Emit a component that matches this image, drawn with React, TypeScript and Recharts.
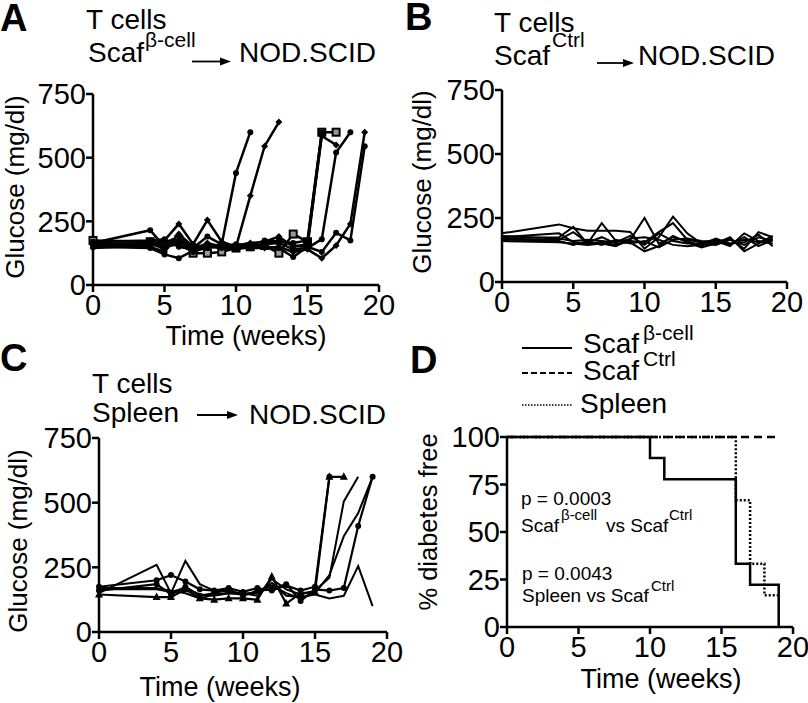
import React from 'react';
import { LineChart, Line, XAxis, YAxis } from 'recharts';

const FONT = '"Liberation Sans", Arial, Helvetica, sans-serif';

const weeks = [0, 4, 5, 6, 7, 8, 9, 10, 11, 12, 13, 14, 15, 16, 17, 18, 19];
const xTicks = [0, 5, 10, 15, 20];
const glucoseTicks = [0, 250, 500, 750];
const survivalTicks = [0, 25, 50, 75, 100];

// Panel A: T cells Scaf(beta-cell) -> NOD.SCID
const a1 = [165, 215, 150, 170, 145, 190, 160, 440, 600];
const a2 = [160, 160, 175, 240, 160, 255, 170, 150, 350, 545, 640];
const a3 = [175, 170, 160, 180, 125, 125, 130, 145, 150, 155, 125, 200, 170, 600, 600];
const a4 = [155, 150, 130, 200, 150, 155, 150, 155, 165, 170, 190, 150, 160, 585, 550];
const a5 = [170, 175, 180, 150, 140, 160, 150, 160, 155, 175, 170, 165, 175, 600];
const a6 = [150, 145, 120, 105, 135, 145, 155, 150, 160, 150, 145, 110, 150, 595];
const a7 = [165, 160, 150, 160, 130, 150, 145, 140, 150, 160, 165, 140, 145, 180, 520, 600];
const a8 = [145, 155, 165, 190, 140, 165, 150, 145, 145, 145, 150, 130, 140, 105, 155, 240, 600];
const a9 = [160, 165, 140, 175, 155, 150, 160, 150, 150, 160, 175, 155, 150, 130, 205, 175, 545];

// Panel B: T cells Scaf(Ctrl) -> NOD.SCID
const b1 = [190, 225, 210, 200, 200, 200, 195, 130, 175, 255, 190, 150, 160, 140, 190, 160, 150];
const b2 = [175, 190, 155, 150, 230, 160, 165, 250, 150, 175, 160, 140, 155, 170, 130, 195, 175];
const b3 = [170, 175, 215, 150, 155, 145, 160, 155, 195, 230, 165, 155, 165, 145, 175, 140, 165];
const b4 = [165, 165, 195, 155, 175, 150, 155, 120, 140, 180, 155, 135, 150, 175, 120, 150, 180];
const b5 = [160, 155, 150, 145, 150, 140, 170, 175, 165, 145, 140, 145, 170, 150, 155, 185, 140];
const b6 = [180, 170, 160, 165, 160, 155, 180, 145, 190, 160, 150, 150, 145, 165, 145, 175, 160];
const b7 = [168, 160, 145, 160, 145, 165, 150, 160, 135, 165, 170, 160, 155, 150, 165, 155, 170];

// Panel C: T cells Spleen -> NOD.SCID
const c1 = [175, 200, 220, 195, 165, 160, 170, 155, 170, 160, 180, 160, 175, 600];
const c2 = [150, 260, 150, 275, 185, 160, 155, 150, 140, 205, 165, 145, 160, 210, 505, 600];
const c3 = [165, 165, 155, 170, 145, 140, 150, 145, 150, 180, 150, 130, 150, 220, 370, 460, 600];
const c4 = [160, 185, 145, 175, 140, 150, 165, 140, 160, 165, 185, 120, 165, 160, 170, 410, 600];
const c5 = [170, 170, 160, 150, 130, 145, 150, 150, 150, 190, 140, 135, 145, 130, 140, 255, 100];
const c6 = [145, 135, 135, 165, 130, 125, 130, 130, 125, 215, 110, 150, 155, 600, 600];

// Panel D: % diabetes free (Kaplan-Meier)
const kmScafBeta = [[0, 100], [10, 88.9], [11, 77.8], [16, 33.3], [17, 22.2], [19, 0]];
const kmScafCtrl = [[0, 100], [19, 100]];
const kmSpleen = [[0, 100], [16, 66.7], [17, 33.3], [18, 16.7], [19, 16.7]];

const toPts = (arr: number[]) => arr.map((v, i) => ({ week: weeks[i], value: v }));
const toKm = (arr: number[][]) => arr.map(([w, v]) => ({ week: w, value: v }));

const circleDot = (r: number) => (p: any) =>
  p.cx == null ? <g key={`c${p.index}`} /> : <circle key={`c${p.index}`} cx={p.cx} cy={p.cy} r={r} fill="#000" />;
const diamondDot = (r: number) => (p: any) =>
  p.cx == null ? <g key={`d${p.index}`} /> : (
    <polygon key={`d${p.index}`} points={`${p.cx},${p.cy - r} ${p.cx + r},${p.cy} ${p.cx},${p.cy + r} ${p.cx - r},${p.cy}`} fill="#000" />
  );
const squareDot = (p: any) =>
  p.cx == null ? <g key={`s${p.index}`} /> : (
    <rect key={`s${p.index}`} x={p.cx - 3.5} y={p.cy - 3.5} width={7} height={7} fill="#999" stroke="#000" strokeWidth={2} />
  );
const triDot = (p: any) =>
  p.cx == null ? <g key={`t${p.index}`} /> : (
    <polygon key={`t${p.index}`} points={`${p.cx},${p.cy - 4.5} ${p.cx + 4},${p.cy + 3} ${p.cx - 4},${p.cy + 3}`} fill="#000" />
  );

const axisStroke = { stroke: '#000', strokeWidth: 2.5 };
const tickStyle = { fill: '#000', fontSize: 29, fontFamily: FONT };

function renderAxes(yTicks: number[], yMax: number) {
  return [
    <XAxis
      key="x"
      type="number"
      dataKey="week"
      domain={[0, 20]}
      ticks={xTicks}
      interval={0}
      height={45}
      axisLine={axisStroke}
      tickLine={axisStroke}
      tickSize={7}
      tickMargin={2}
      tick={tickStyle}
      allowDuplicatedCategory={false}
    />,
    <YAxis
      key="y"
      type="number"
      domain={[0, yMax]}
      ticks={yTicks}
      interval={0}
      width={60}
      axisLine={axisStroke}
      tickLine={axisStroke}
      tickSize={7}
      tickMargin={0}
      tick={tickStyle}
    />,
  ];
}

const panelA = [
  { d: a1, dot: circleDot(3) },
  { d: a2, dot: diamondDot(3.5) },
  { d: a3, dot: squareDot },
  { d: a4, dot: diamondDot(3.5) },
  { d: a5, dot: circleDot(3) },
  { d: a6, dot: circleDot(3) },
  { d: a7, dot: circleDot(3) },
  { d: a8, dot: diamondDot(3.5) },
  { d: a9, dot: circleDot(3) },
];
const panelB = [b1, b2, b3, b4, b5, b6, b7];
const panelC = [
  { d: c1, dot: circleDot(3), w: 2.2 },
  { d: c2, dot: false as any, w: 2 },
  { d: c3, dot: false as any, w: 2 },
  { d: c4, dot: circleDot(3), w: 2.2 },
  { d: c5, dot: false as any, w: 2 },
  { d: c6, dot: triDot, w: 2.2 },
];

const T = (props: any) => <text fontFamily={FONT} fill="#000" {...props} />;

function Arrow({ x1, x2, y }: { x1: number; x2: number; y: number }) {
  return (
    <g>
      <line x1={x1} x2={x2 - 8} y1={y} y2={y} stroke="#000" strokeWidth={1.8} />
      <polygon points={`${x2},${y} ${x2 - 11},${y - 4} ${x2 - 11},${y + 4}`} fill="#000" />
    </g>
  );
}

export default function App() {
  return (
    <div style={{ position: 'absolute', left: 0, top: 0, width: 808, height: 703, background: '#fff', fontFamily: FONT }}>
      <div style={{ position: 'absolute', left: 0, top: 0 }}>
        <LineChart width={404} height={330} margin={{ top: 94, right: 25, bottom: 0, left: 33 }}>
          {renderAxes(glucoseTicks, 750)}
          {panelA.map((s, i) => (
            <Line
              key={`a${i}`}
              data={toPts(s.d)}
              dataKey="value"
              stroke="#000"
              strokeWidth={2.5}
              dot={s.dot}
              isAnimationActive={false}
            />
          ))}
        </LineChart>
      </div>
      <div style={{ position: 'absolute', left: 404, top: 0 }}>
        <LineChart width={404} height={330} margin={{ top: 90, right: 21, bottom: 3, left: 38 }}>
          {renderAxes(glucoseTicks, 750)}
          {panelB.map((s, i) => (
            <Line
              key={`b${i}`}
              data={toPts(s)}
              dataKey="value"
              stroke="#000"
              strokeWidth={2}
              dot={false}
              isAnimationActive={false}
            />
          ))}
        </LineChart>
      </div>
      <div style={{ position: 'absolute', left: 0, top: 330 }}>
        <LineChart width={404} height={373} margin={{ top: 108, right: 17, bottom: 26, left: 39 }}>
          {renderAxes(glucoseTicks, 750)}
          {panelC.map((s, i) => (
            <Line
              key={`c${i}`}
              data={toPts(s.d)}
              dataKey="value"
              stroke="#000"
              strokeWidth={s.w}
              dot={s.dot}
              isAnimationActive={false}
            />
          ))}
        </LineChart>
      </div>
      <div style={{ position: 'absolute', left: 404, top: 330 }}>
        <LineChart width={404} height={373} margin={{ top: 107, right: 15, bottom: 31, left: 43 }}>
          {renderAxes(survivalTicks, 100)}
          <Line data={toKm(kmScafCtrl)} dataKey="value" type="stepAfter" stroke="#000" strokeWidth={2.5} strokeDasharray="8 5" dot={false} isAnimationActive={false} />
          <Line data={toKm(kmSpleen)} dataKey="value" type="stepAfter" stroke="#000" strokeWidth={2.5} strokeDasharray="2 2" dot={false} isAnimationActive={false} />
          <Line data={toKm(kmScafBeta)} dataKey="value" type="stepAfter" stroke="#000" strokeWidth={2.5} dot={false} isAnimationActive={false} />
        </LineChart>
      </div>

      <svg width={808} height={703} style={{ position: 'absolute', left: 0, top: 0, pointerEvents: 'none' }}>
        {/* Panel letters */}
        <T x={0} y={31} fontSize={38} fontWeight="bold">A</T>
        <T x={405} y={30} fontSize={38} fontWeight="bold">B</T>
        <T x={0} y={371} fontSize={38} fontWeight="bold">C</T>
        <T x={410} y={373} fontSize={38} fontWeight="bold">D</T>

        {/* Panel A title */}
        <T x={86} y={29} fontSize={28}>T cells</T>
        <T x={88} y={62} fontSize={28}>Scaf</T>
        <T x={145} y={47} fontSize={21}>β-cell</T>
        <Arrow x1={192} x2={231} y={61.5} />
        <T x={239} y={62} fontSize={28}>NOD.SCID</T>

        {/* Panel B title */}
        <T x={494} y={32} fontSize={28}>T cells</T>
        <T x={494} y={65} fontSize={28}>Scaf</T>
        <T x={552} y={47} fontSize={21}>Ctrl</T>
        <Arrow x1={597} x2={634} y={63} />
        <T x={638} y={65} fontSize={28}>NOD.SCID</T>

        {/* Panel C title */}
        <T x={92} y={393} fontSize={28}>T cells</T>
        <T x={92} y={422} fontSize={28}>Spleen</T>
        <Arrow x1={197} x2={238} y={415} />
        <T x={249} y={424} fontSize={28}>NOD.SCID</T>

        {/* Axis titles */}
        <T x={246} y={345} fontSize={27} textAnchor="middle">Time (weeks)</T>
        <T x={220} y={696} fontSize={27} textAnchor="middle">Time (weeks)</T>
        <T x={661} y={688} fontSize={27} textAnchor="middle">Time (weeks)</T>
        <T x={24} y={187} fontSize={26} textAnchor="middle" transform="rotate(-90 24 187)">Glucose (mg/dl)</T>
        <T x={431} y={182} fontSize={26} textAnchor="middle" transform="rotate(-90 431 182)">Glucose (mg/dl)</T>
        <T x={27} y={541} fontSize={26} textAnchor="middle" transform="rotate(-90 27 541)">Glucose (mg/dl)</T>
        <T x={437} y={522} fontSize={25.5} textAnchor="middle" transform="rotate(-90 437 522)">% diabetes free</T>

        {/* Panel D legend */}
        <line x1={522} x2={572} y1={348} y2={348} stroke="#000" strokeWidth={2} />
        <line x1={522} x2={572} y1={373} y2={373} stroke="#000" strokeWidth={2} strokeDasharray="6 3" />
        <line x1={522} x2={572} y1={405} y2={405} stroke="#000" strokeWidth={1.5} strokeDasharray="1.5 1.5" />
        <T x={583} y={353} fontSize={28}>Scaf</T>
        <T x={643} y={340} fontSize={21}>β-cell</T>
        <T x={583} y={380} fontSize={28}>Scaf</T>
        <T x={643} y={366} fontSize={21}>Ctrl</T>
        <T x={580} y={413} fontSize={28}>Spleen</T>

        {/* p-values */}
        <T x={521} y={505} fontSize={19}>p = 0.0003</T>
        <T x={521} y={532} fontSize={19}>Scaf</T>
        <T x={561} y={520} fontSize={15}>β-cell</T>
        <T x={606} y={532} fontSize={19}>vs Scaf</T>
        <T x={669} y={520} fontSize={15}>Ctrl</T>
        <T x={522} y={580} fontSize={19}>p = 0.0043</T>
        <T x={522} y={602} fontSize={19}>Spleen vs Scaf</T>
        <T x={651} y={591} fontSize={15}>Ctrl</T>
      </svg>
    </div>
  );
}
